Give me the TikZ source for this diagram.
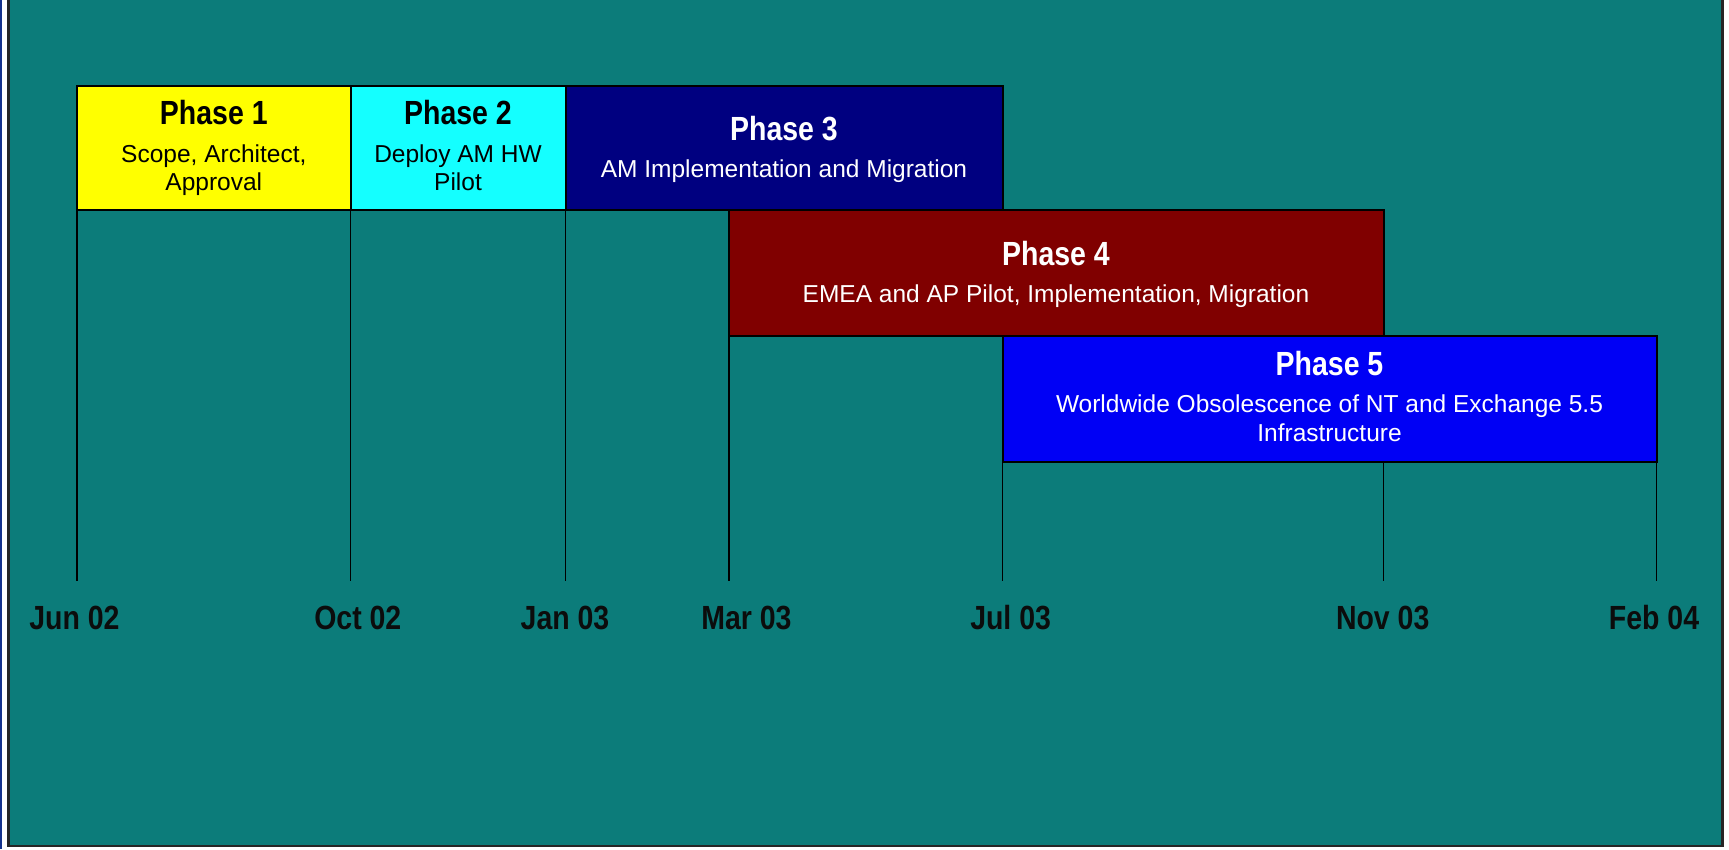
\documentclass[tikz,border=0pt]{standalone}
\usepackage{fontspec}
\setmainfont{Liberation Sans}
\newfontfamily\narrowfam[FakeStretch=0.85]{Liberation Sans}
\newcommand\titlef{\narrowfam\bfseries\fontsize{33.5}{36}\selectfont}
\newcommand\subf{\fontsize{24.5}{28}\selectfont}
\definecolor{teal1}{RGB}{12,124,122}
\definecolor{yel}{RGB}{255,255,0}
\definecolor{cya}{RGB}{20,255,255}
\definecolor{navy1}{RGB}{0,0,128}
\definecolor{dred}{RGB}{128,0,0}
\definecolor{blu}{RGB}{0,0,245}
\definecolor{edgeblue}{RGB}{20,50,140}
\definecolor{ink}{RGB}{12,12,12}
\begin{document}
\begin{tikzpicture}[x=1pt,y=-1pt,
  phasebox/.style={draw=black, line width=2pt, inner sep=0pt, outer sep=0pt, anchor=north west},
  ttl/.style={anchor=base, font=\titlef, inner sep=0pt},
  sub/.style={anchor=base, font=\subf, inner sep=0pt},
  mlabel/.style={anchor=base, font=\titlef, text=ink, inner sep=0pt},
  tickline/.style={draw=black, line width=1.6pt}]
\useasboundingbox (0,0) rectangle (1729,849);
% background and frame
\fill[white] (0,0) rectangle (1729,849);
\fill[edgeblue] (0,0) rectangle (2,849);
\fill[teal1] (9,0) rectangle (1722,846);
\draw[black!85, line width=2.5pt] (8.5,0) -- (8.5,846) -- (1722.5,846) -- (1722.5,0);
% bottom coordinates of the month lines
\coordinate (t1) at (77,581);
\coordinate (t2) at (350.5,581);
\coordinate (t3) at (565.5,581);
\coordinate (t4) at (729,581);
\coordinate (t5) at (1002.5,581);
\coordinate (t6) at (1383.5,581);
\coordinate (t7) at (1656.5,581);
% phase boxes
\node[phasebox, fill=yel, minimum width=273.5pt, minimum height=124pt] (p1) at (77,86) {};
\node[phasebox, fill=cya, minimum width=215pt, minimum height=124pt] (p2) at (350.5,86) {};
\node[phasebox, fill=navy1, minimum width=437pt, minimum height=124pt] (p3) at (565.5,86) {};
\node[phasebox, fill=dred, minimum width=654.5pt, minimum height=126pt] (p4) at (729,210) {};
\node[phasebox, fill=blu, minimum width=654pt, minimum height=126pt] (p5) at (1002.5,336) {};
% month lines
\draw[tickline] (p1.south west) -- (t1);
\draw[tickline] (p1.south east) -- (t2);
\draw[tickline] (p3.south west) -- (t3);
\draw[tickline] (p4.south west) -- (t4);
\draw[tickline] (p5.south west) -- (t5);
\draw[tickline] (p5.south -| t6) -- (t6);
\draw[tickline] (p5.south east) -- (t7);
% box texts
\node[ttl] (p1a) at (213.8,124) {Phase 1};
\node[sub] (p1b) at (213.8,162) {Scope, Architect,};
\node[sub] (p1c) at (213.8,190) {Approval};
\node[ttl] (p2a) at (458,124) {Phase 2};
\node[sub] (p2b) at (458,162) {Deploy AM HW};
\node[sub] (p2c) at (458,190) {Pilot};
\node[ttl, text=white] (p3a) at (784,140) {Phase 3};
\node[sub, text=white] (p3b) at (784,177) {AM Implementation and Migration};
\node[ttl, text=white] (p4a) at (1056,265) {Phase 4};
\node[sub, text=white] (p4b) at (1056,302) {EMEA and AP Pilot, Implementation, Migration};
\node[ttl, text=white] (p5a) at (1329.5,375) {Phase 5};
\node[sub, text=white] (p5b) at (1329.5,412) {Worldwide Obsolescence of NT and Exchange 5.5};
\node[sub, text=white] (p5c) at (1329.5,441) {Infrastructure};
% month labels
\node[mlabel] (l1) at (74.4,629) {Jun 02};
\node[mlabel] (l2) at (357.8,629) {Oct 02};
\node[mlabel] (l3) at (565,629) {Jan 03};
\node[mlabel] (l4) at (746.5,629) {Mar 03};
\node[mlabel] (l5) at (1010.6,629) {Jul 03};
\node[mlabel] (l6) at (1382.7,629) {Nov 03};
\node[mlabel] (l7) at (1654,629) {Feb 04};
\end{tikzpicture}
\end{document}
